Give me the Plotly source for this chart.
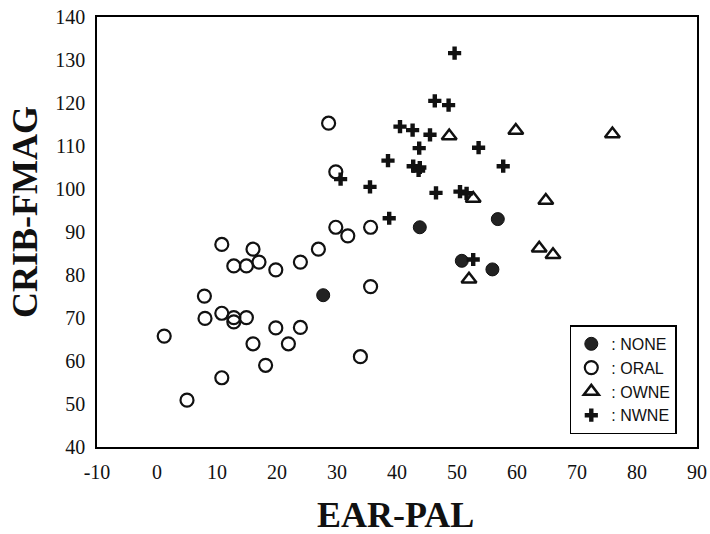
import plotly.graph_objects as go

# NONE (filled circles)
none_x = [27.7, 43.8, 56.8, 50.8, 55.9]
none_y = [75.3, 91.1, 93.0, 83.3, 81.3]

# ORAL (open circles)
oral_x = [28.6, 29.8, 29.8, 31.8, 35.6, 10.8, 16.0, 26.9, 12.8, 14.9, 17.0, 19.8, 23.9, 7.9, 35.6,
          8.0, 10.8, 12.8, 12.8, 14.9, 19.8, 23.9, 1.2, 16.0, 21.9, 18.1, 33.9, 10.8, 5.0]
oral_y = [115.3, 104.0, 91.1, 89.1, 91.1, 87.1, 86.0, 86.0, 82.1, 82.1, 83.0, 81.2, 83.0, 75.1, 77.3,
          69.9, 71.1, 70.1, 69.1, 70.1, 67.7, 67.8, 65.8, 64.0, 64.0, 59.0, 61.0, 56.1, 50.9]

# OWNE (open triangles)
owne_x = [48.7, 59.8, 75.9, 52.7, 64.8, 63.7, 66.0, 52.0]
owne_y = [112.3, 113.6, 112.8, 97.8, 97.3, 86.2, 84.7, 79.0]

# NWNE (plus signs)
nwne_x = [49.6, 46.3, 48.6, 40.5, 42.6, 45.5, 43.7, 53.6, 38.5, 42.7, 43.8, 43.6, 57.7, 35.5,
          46.5, 50.5, 51.6, 38.7, 30.6, 52.7]
nwne_y = [131.6, 120.5, 119.5, 114.5, 113.7, 112.6, 109.5, 109.6, 106.6, 105.3, 105.0, 104.3, 105.3, 100.5,
          99.1, 99.4, 99.0, 93.2, 102.3, 83.6]

x_ticks = [-10, 0, 10, 20, 30, 40, 50, 60, 70, 80, 90]
x_tick_text = ["-10", "0", "10", "20", "30", "40", "50", "60", "70", "80", "90"]
y_ticks = [40, 50, 60, 70, 80, 90, 100, 110, 120, 130, 140]
y_tick_text = ["40", "50", "60", "70", "80", "90", "100", "110", "120", "130", "140"]

x_title = "EAR-PAL"
y_title = "CRIB-FMAG"

fig = go.Figure()
fig.add_trace(go.Scatter(x=none_x, y=none_y, mode="markers", name=": NONE",
                         marker=dict(symbol="circle", size=13, color="#222222",
                                     line=dict(color="#111111", width=1))))
fig.add_trace(go.Scatter(x=oral_x, y=oral_y, mode="markers", name=": ORAL",
                         marker=dict(symbol="circle-open", size=13, color="#111111",
                                     line=dict(width=2.2))))
fig.add_trace(go.Scatter(x=owne_x, y=owne_y, mode="markers", name=": OWNE",
                         marker=dict(symbol="triangle-up-open", size=13, color="#111111",
                                     line=dict(width=2.5))))
fig.add_trace(go.Scatter(x=nwne_x, y=nwne_y, mode="markers", name=": NWNE",
                         marker=dict(symbol="cross", size=11, color="#111111",
                                     line=dict(width=0))))

serif = "Liberation Serif"
fig.update_xaxes(range=[-10, 90], tickvals=x_ticks, ticktext=x_tick_text, showgrid=False, zeroline=False,
                 showline=True, mirror=True, linecolor="black", linewidth=1.5, ticks="",
                 ticklabelstandoff=6, automargin=False, ticklabeloverflow="allow",
                 tickfont=dict(family=serif, size=20, color="#111111"))
fig.update_yaxes(range=[40, 140], tickvals=y_ticks, ticktext=y_tick_text, showgrid=False, zeroline=False,
                 showline=True, mirror=True, linecolor="black", linewidth=1.5, ticks="",
                 ticklabelstandoff=6, automargin=False, ticklabeloverflow="allow",
                 tickfont=dict(family=serif, size=20, color="#111111"))

title_font = dict(family=serif, size=36, color="#111111", weight="bold")
fig.add_annotation(text=x_title, xref="paper", yref="paper", x=0.497, y=-0.158,
                   xanchor="center", yanchor="middle", showarrow=False, font=title_font)
fig.add_annotation(text=y_title, xref="paper", yref="paper", x=-0.12, y=0.5465,
                   xanchor="center", yanchor="middle", textangle=-90, showarrow=False, font=title_font)

fig.update_layout(
    width=710, height=534,
    margin=dict(l=97, r=13, t=17, b=87),
    plot_bgcolor="white", paper_bgcolor="white",
    legend=dict(x=0.788, y=0.156, xanchor="left", yanchor="middle",
                bordercolor="black", borderwidth=1.5, bgcolor="white",
                font=dict(family="Liberation Sans", size=16, color="#111111"),
                itemwidth=30, tracegroupgap=0),
)
# Remove the browser's default page margin so the 710x534 figure fills the window exactly.
fig.write_html("out.html", config={"displayModeBar": False},
               post_script="document.body.style.margin='0';")
